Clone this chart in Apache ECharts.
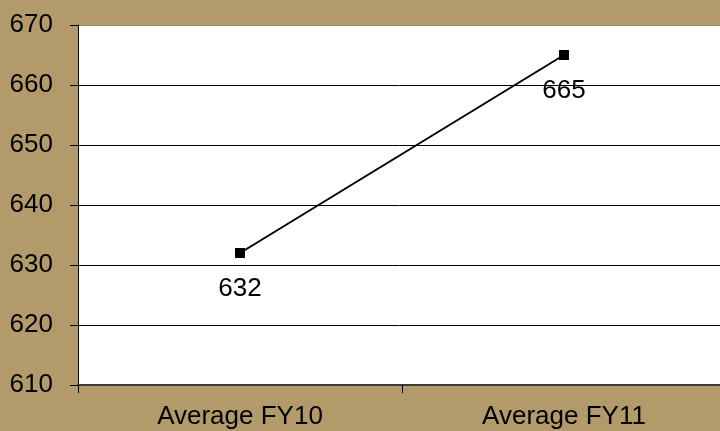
<!DOCTYPE html>
<html>
<head>
<meta charset="utf-8">
<script src="https://cdn.jsdelivr.net/npm/echarts@6/dist/echarts.min.js"></script>
<style>
html,body{margin:0;padding:0;background:#B39A6B;}
#c{width:720px;height:431px;}
</style>
</head>
<body>
<div id="c"></div>
<script>
const categories = ["Average FY10", "Average FY11"];
const values = [632, 665];
const yTicks = { min: 610, max: 670, interval: 10 };

const chart = echarts.init(document.getElementById('c'), null, { renderer: 'canvas' });
const font = 'Liberation Sans, Arial, sans-serif';
chart.setOption({
  backgroundColor: '#B39A6B',
  animation: false,
  grid: { left: 78, width: 648, top: 25, height: 360, outerBoundsMode: 'none', containLabel: false, show: true, backgroundColor: '#ffffff', borderWidth: 0 },
  xAxis: {
    type: 'category',
    data: categories,
    boundaryGap: true,
    axisLine: { show: true, lineStyle: { color: '#3a3a3a', width: 2 } },
    axisTick: { show: true, length: 8, lineStyle: { color: '#000', width: 1 } },
    axisLabel: { color: '#000', fontSize: 26, fontFamily: font, margin: 19 },
    splitLine: { show: false }
  },
  yAxis: {
    type: 'value',
    min: yTicks.min, max: yTicks.max, interval: yTicks.interval,
    axisLine: { show: true, lineStyle: { color: '#000', width: 1 } },
    axisTick: { show: true, length: 8, lineStyle: { color: '#000', width: 1 } },
    axisLabel: { color: '#000', fontSize: 26, fontFamily: font, margin: 25 },
    splitLine: { show: true, lineStyle: { color: ['#000', '#000', '#000', '#000', '#000', '#000', '#8c8c8c'], width: 1 } }
  },
  series: [{
    type: 'line',
    data: values,
    symbol: 'rect',
    symbolSize: 10,
    itemStyle: { color: '#000' },
    lineStyle: { color: '#000', width: 2 },
    label: { show: true, position: 'bottom', distance: 18, color: '#000', fontSize: 26, fontFamily: font }
  }]
});
</script>
</body>
</html>
